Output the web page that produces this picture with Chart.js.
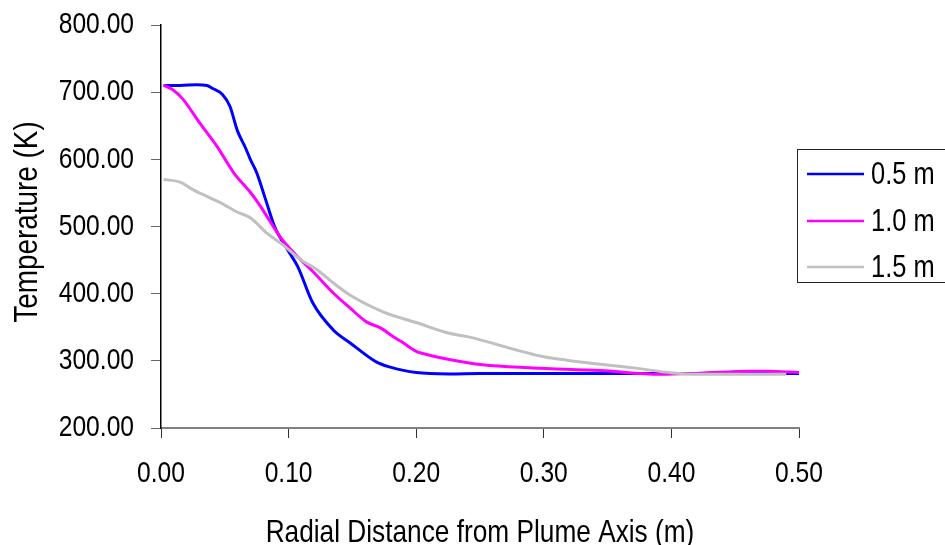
<!DOCTYPE html>
<html>
<head>
<meta charset="utf-8">
<script src="https://cdn.jsdelivr.net/npm/chart.js@4/dist/chart.umd.min.js"></script>
<style>
  html, body { margin: 0; padding: 0; background: #fff; }
  canvas { display: block; }
</style>
</head>
<body>
<canvas id="c" width="945" height="545"></canvas>
<script>
// ---- Data ----
const seriesLabels = ["0.5 m", "1.0 m", "1.5 m"];
const seriesColors = ["#0000FF", "#FF00FF", "#C0C0C0"];

// 0.5 m
const r05 = [0.002, 0.015, 0.028, 0.036, 0.041, 0.048, 0.054, 0.060, 0.066, 0.070, 0.075, 0.082, 0.089, 0.099, 0.107, 0.119, 0.135, 0.148, 0.169, 0.179, 0.200, 0.226, 0.250, 0.300, 0.350, 0.400, 0.450, 0.500];
const t05 = [710, 710, 711, 710, 705, 697, 679, 642, 618, 600, 580, 540, 500, 466, 441, 386, 346, 327, 298, 291, 282.5, 280.5, 281, 281, 281, 281, 281, 281];

// 1.0 m
const r10 = [0.002, 0.009, 0.017, 0.030, 0.044, 0.057, 0.070, 0.078, 0.091, 0.096, 0.107, 0.119, 0.135, 0.148, 0.161, 0.172, 0.182, 0.188, 0.200, 0.203, 0.226, 0.252, 0.291, 0.344, 0.391, 0.422, 0.461, 0.475, 0.500];
const t10 = [710, 704, 690, 655, 619, 580, 551, 530, 491, 478, 455, 433, 401, 379, 358, 349, 336, 329, 314, 312, 302, 294, 289.5, 285.5, 280, 281.6, 284.6, 284.5, 282.5];

// 1.5 m
const r15 = [0.002, 0.015, 0.025, 0.038, 0.049, 0.059, 0.070, 0.083, 0.096, 0.109, 0.122, 0.135, 0.148, 0.174, 0.200, 0.226, 0.240, 0.300, 0.318, 0.370, 0.401, 0.420, 0.490];
const t15 = [570, 566, 555, 543, 533, 522, 513, 490, 472, 451, 436, 416, 398, 373, 357, 341, 336, 306, 301, 289.5, 282, 280, 280];

const xTicks = [0, 0.1, 0.2, 0.3, 0.4, 0.5];
const yTicks = [200, 300, 400, 500, 600, 700, 800];

const xTitle = "Radial Distance from Plume Axis (m)";
const yTitle = "Temperature (K)";

// ---- Build ----
// Arial Narrow look: Liberation Sans compressed horizontally
const FONT = "'Liberation Sans', Arial, sans-serif";
const NARROW = 0.82;
function pts(xs, ys) { return xs.map((x, i) => ({ x: x, y: ys[i] })); }
const allR = [r05, r10, r15];
const allT = [t05, t10, t15];

const datasets = seriesLabels.map((lab, i) => ({
  label: lab,
  data: pts(allR[i], allT[i]),
  borderColor: seriesColors[i],
  backgroundColor: seriesColors[i],
  borderWidth: 3,
  pointRadius: 0,
  fill: false,
  cubicInterpolationMode: 'monotone',
  order: 3 - i
}));

function narrowText(ctx, text, x, y, size, align, baseline, rot) {
  ctx.save();
  ctx.translate(x, y);
  if (rot) ctx.rotate(rot);
  ctx.scale(NARROW, 1);
  ctx.font = size + 'px ' + FONT;
  ctx.fillStyle = '#000';
  ctx.textAlign = align;
  ctx.textBaseline = baseline;
  ctx.fillText(text, 0, 0);
  ctx.restore();
}

const textPlugin = {
  id: 'narrowText',
  afterDraw(chart) {
    const ctx = chart.ctx;
    const xs = chart.scales.x, ys = chart.scales.y;
    // y tick labels
    ys.ticks.forEach(t => {
      narrowText(ctx, Number(t.value).toFixed(2), ys.right - 10 - 17, ys.getPixelForValue(t.value), 30, 'right', 'middle');
    });
    // x tick labels
    xs.ticks.forEach(t => {
      narrowText(ctx, Number(t.value).toFixed(2), xs.getPixelForValue(t.value), xs.top + 46, 30, 'center', 'middle');
    });
    // axis titles
    narrowText(ctx, xTitle, (xs.left + xs.right) / 2, 542, 32, 'center', 'alphabetic');
    narrowText(ctx, yTitle, 37, 222, 34, 'center', 'alphabetic', -Math.PI / 2);

    // legend
    ctx.save();
    ctx.fillStyle = '#fff';
    ctx.fillRect(797, 149, 160, 133);
    ctx.strokeStyle = '#222';
    ctx.lineWidth = 1;
    ctx.strokeRect(797.5, 149.5, 160, 133);
    const ly = [174, 221, 267];
    chart.data.datasets.forEach((ds, i) => {
      ctx.strokeStyle = ds.borderColor;
      ctx.lineWidth = 2.5;
      ctx.beginPath();
      ctx.moveTo(807, ly[i]);
      ctx.lineTo(864, ly[i]);
      ctx.stroke();
    });
    ctx.restore();
    chart.data.datasets.forEach((ds, i) => {
      narrowText(ctx, ds.label, 871, ly[i] + 1, 31, 'left', 'middle');
    });
  }
};

new Chart(document.getElementById('c'), {
  type: 'line',
  data: { datasets: datasets },
  options: {
    responsive: false,
    animation: false,
    devicePixelRatio: 1,
    layout: { padding: { top: 25, right: 146, left: 0, bottom: 0 } },
    plugins: { legend: { display: false }, tooltip: { enabled: false } },
    scales: {
      x: {
        type: 'linear',
        min: 0, max: 0.5,
        afterBuildTicks: (s) => { s.ticks = xTicks.map(v => ({ value: v })); },
        afterFit: (s) => { s.height = 117; },
        ticks: { display: false },
        grid: { drawOnChartArea: false, drawTicks: true, tickLength: 10, color: '#333', lineWidth: 1 },
        border: { display: true, color: '#808080', width: 2 },
        title: { display: false }
      },
      y: {
        type: 'linear',
        min: 200, max: 800,
        afterBuildTicks: (s) => { s.ticks = yTicks.map(v => ({ value: v })); },
        afterFit: (s) => { s.width = 161; },
        ticks: { display: false },
        grid: { drawOnChartArea: false, drawTicks: true, tickLength: 10, color: '#666', lineWidth: 1 },
        border: { display: true, color: '#000', width: 1.5 },
        title: { display: false }
      }
    }
  },
  plugins: [textPlugin]
});
</script>
</body>
</html>
